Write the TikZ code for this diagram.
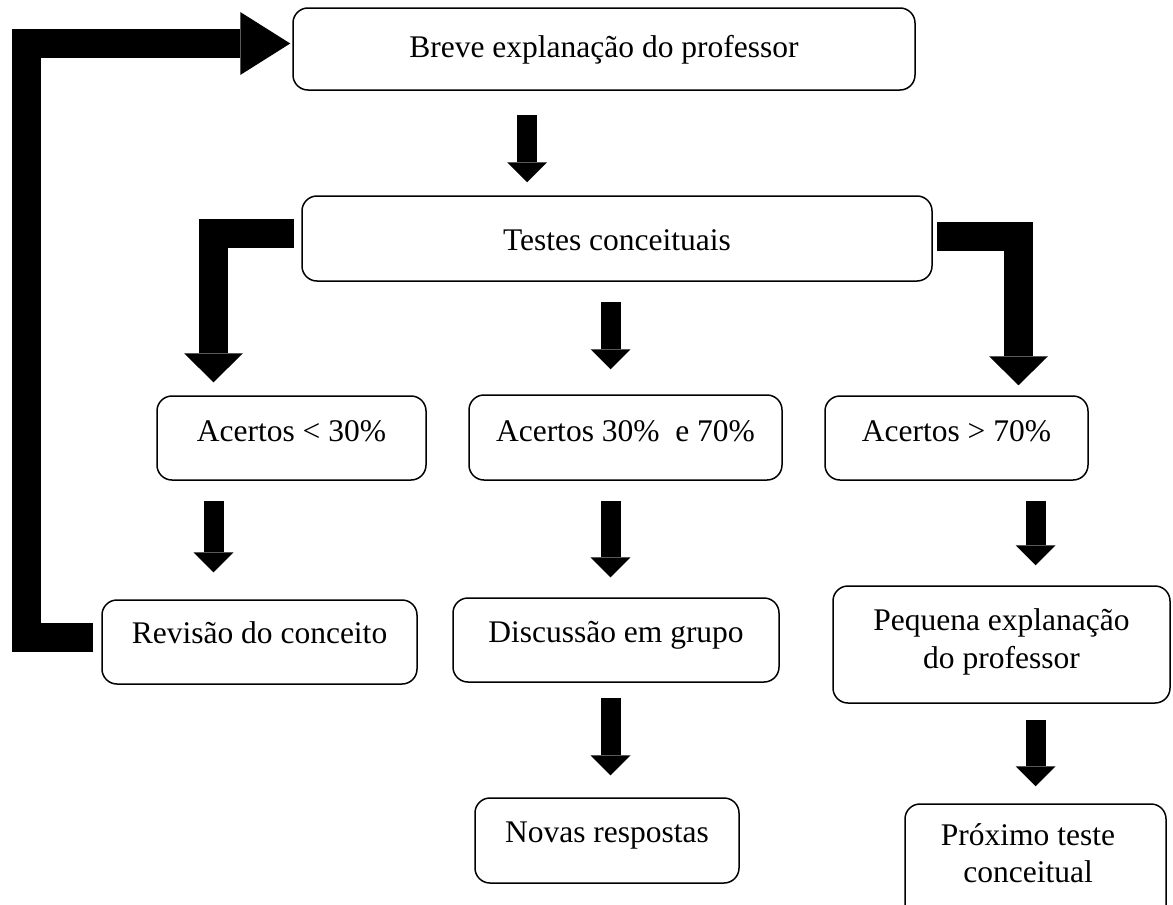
\documentclass[tikz,border=0pt]{standalone}
\usepackage{fontspec}
\setmainfont{Liberation Serif}
\usetikzlibrary{arrows.meta}
\begin{document}
\begin{tikzpicture}[x=1pt,y=-1pt,
  box/.style={draw, line width=1.5pt, rounded corners=15pt, inner sep=0pt},
  txt/.style={inner sep=0pt, anchor=base, font=\fontsize{31.5}{38}\selectfont},
  medarrow/.style={line width=20pt, -{Triangle[width=40pt,length=20pt,line width=0pt]}},
  bigarrow/.style={line width=29pt, line join=miter, -{Triangle[width=59pt,length=29pt,line width=0pt]}},
  looparrow/.style={line width=29pt, line join=miter, -{Triangle[width=63pt,length=50pt,line width=0pt]}}]
\useasboundingbox (0,0) rectangle (1173,905);
\clip (0,0) rectangle (1173,905);

% boxes
\node[box, minimum width=622pt, minimum height=82pt] (breve) at (604,49) {};
\node[box, minimum width=630pt, minimum height=85pt] (testes) at (617,238.5) {};
\node[box, minimum width=269pt, minimum height=84pt] (acertos1) at (291.5,438) {};
\node[box, minimum width=313pt, minimum height=85pt] (acertos2) at (625.5,437.5) {};
\node[box, minimum width=263pt, minimum height=84pt] (acertos3) at (956.5,438) {};
\node[box, minimum width=315pt, minimum height=84pt] (revisao) at (259.5,642) {};
\node[box, minimum width=326pt, minimum height=84pt] (discussao) at (616,640) {};
\node[box, minimum width=337pt, minimum height=117pt] (pequena) at (1001.5,644.5) {};
\node[box, minimum width=264pt, minimum height=85pt] (novas) at (607,840.5) {};
\node[box, minimum width=261pt, minimum height=117pt] (proximo) at (1035.5,862.5) {};

% texts
\node[txt] (tbreve) at (604,57) {Breve explanação do professor};
\node[txt] (ttestes) at (617,250) {Testes conceituais};
\node[txt] (tac1) at (291.5,441) {Acertos < 30\%};
\node[txt] (tac2) at (625.5,441) {Acertos 30\%\ \ e 70\%};
\node[txt] (tac3) at (956.5,441) {Acertos > 70\%};
\node[txt] (trev) at (259.5,643) {Revisão do conceito};
\node[txt] (tdis) at (616,642) {Discussão em grupo};
\node[txt] (tpeq1) at (1001.5,630) {Pequena explanação};
\node[txt] (tpeq2) at (1001.5,668) {do professor};
\node[txt] (tnov) at (607,842) {Novas respostas};
\node[txt] (tprox1) at (1028,845) {Próximo teste};
\node[txt] (tprox2) at (1028,882) {conceitual};

% helper coordinates
\coordinate (c0) at (26.5,0);
\coordinate (c1) at (213.5,0);
\coordinate (c2) at (527,0);
\coordinate (c3) at (610.5,0);
\coordinate (c4) at (1018.5,0);
\coordinate (c5) at (1035.5,0);
\coordinate (lrow) at (0,233.5);
\coordinate (rrow) at (0,236);
\coordinate (brow) at (0,637.5);
\coordinate (trow) at (0,43.5);

% arrows
\draw[medarrow, shorten <=24pt, shorten >=13pt] (breve.south -| c2) -- (testes.north -| c2);
\draw[medarrow, shorten <=20pt, shorten >=25pt] (testes.south -| c3) -- (acertos2.north -| c3);
\draw[bigarrow, shorten <=7pt, shorten >=13pt] (testes.west |- lrow) -| (acertos1.north -| c1);
\draw[bigarrow, shorten <=4pt, shorten >=10pt] (testes.east |- rrow) -| (acertos3.north -| c4);
\draw[medarrow, shorten <=20pt, shorten >=27pt] (acertos1.south -| c1) -- (revisao.north -| c1);
\draw[medarrow, shorten <=20pt, shorten >=20pt] (acertos2.south -| c3) -- (discussao.north -| c3);
\draw[medarrow, shorten <=20pt, shorten >=20pt] (acertos3.south -| c5) -- (pequena.north -| c5);
\draw[medarrow, shorten <=15pt, shorten >=22pt] (discussao.south -| c3) -- (novas.north -| c3);
\draw[medarrow, shorten <=16pt, shorten >=17pt] (pequena.south -| c5) -- (proximo.north -| c5);
\draw[looparrow, shorten <=8pt, shorten >=2pt] (revisao.west |- brow) -- (c0 |- brow) |- (breve.west |- trow);
\end{tikzpicture}
\end{document}
